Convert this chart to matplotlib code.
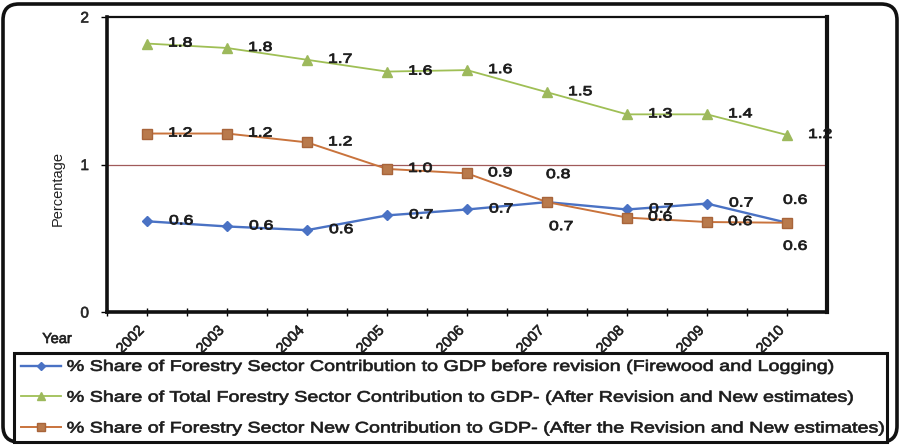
import matplotlib
matplotlib.use("Agg")
import matplotlib.pyplot as plt
from matplotlib.patches import FancyBboxPatch
from matplotlib.transforms import Affine2D, IdentityTransform
from matplotlib.patheffects import AbstractPathEffect

plt.rcParams['font.family'] = ['Liberation Sans', 'DejaVu Sans']

# ---------------- data ----------------
years = ['2002', '2003', '2004', '2005', '2006', '2007', '2008', '2009', '2010']

before_revision = [0.615, 0.58, 0.555, 0.655, 0.695, 0.745, 0.695, 0.735, 0.605]
before_labels = ['0.6', '0.6', '0.6', '0.7', '0.7', '0.8', '0.7', '0.7', '0.6']

total_forestry = [1.82, 1.79, 1.71, 1.63, 1.64, 1.49, 1.34, 1.34, 1.20]
total_labels = ['1.8', '1.8', '1.7', '1.6', '1.6', '1.5', '1.3', '1.4', '1.2']

new_contribution = [1.21, 1.21, 1.15, 0.97, 0.94, 0.745, 0.64, 0.61, 0.605]
new_labels = ['1.2', '1.2', '1.2', '1.0', '0.9', '0.7', '0.6', '0.6', '0.6']

series_names = [
    '% Share of Forestry Sector Contribution to GDP before revision (Firewood and Logging)',
    '% Share of Total Forestry Sector Contribution to GDP- (After Revision and New estimates)',
    '% Share of Forestry Sector New Contribution to GDP- (After the Revision and New estimates)',
]


class Stretch(AbstractPathEffect):
    """Horizontally widen glyphs (anchored at the text origin), slightly emboldened."""
    def __init__(self, sx, stroke=0.0):
        super().__init__()
        self.sx = sx
        self.stroke = stroke

    def draw_path(self, renderer, gc, tpath, affine, rgbFace=None):
        gc0 = renderer.new_gc()
        gc0.copy_properties(gc)
        if self.stroke > 0 and rgbFace is not None:
            gc0.set_linewidth(self.stroke)
            gc0.set_foreground(rgbFace)
        renderer.draw_path(gc0, tpath, Affine2D().scale(self.sx, 1.0) + affine, rgbFace)
        gc0.restore()


W, H = 900, 445
fig = plt.figure(figsize=(W / 100, H / 100), dpi=100)
fig.patch.set_facecolor('white')

ax = fig.add_axes([107 / W, 1 - 312 / H, 720 / W, 295 / H])
x = list(range(len(years)))

c_blue = '#4a72c4'
c_green = '#9fbf55'
c_orange = '#c9733c'

ax.plot(x, before_revision, color=c_blue, lw=1.7, marker='D', ms=5,
        mfc=c_blue, mec=c_blue, zorder=3)
ax.plot(x, total_forestry, color=c_green, lw=1.3, marker='^', ms=7.5,
        mfc='#9db95c', mec='#9db95c', zorder=3)
ax.plot(x, new_contribution, color=c_orange, lw=1.4, marker='s', ms=7,
        mfc='#b97a4c', mec='#a8643a', zorder=4)

ax.axhline(1, color='#a05a5a', lw=0.9, zorder=1)

ax.set_xlim(-0.5, len(years) - 0.5)
ax.set_ylim(0, 2)
ax.set_yticks([0, 1, 2])
ax.set_yticklabels(['0', '1', '2'], fontsize=11, color='#222222')
ax.tick_params(axis='y', direction='out', length=4, width=1, pad=9)

ax.set_xticks(x)
ax.set_xticks([i + 0.5 for i in x[:-1]] + [-0.5], minor=True)
ax.set_xticklabels(years, rotation=45, ha='right', va='top', fontsize=10.5,
                   color='#1a1a1a', rotation_mode='default')
ax.tick_params(axis='x', which='both', direction='inout', length=6, width=1, pad=5)
for t in ax.get_xticklabels() + ax.get_yticklabels():
    t.set_path_effects([Stretch(1.0, 0.5)])

for side, lw in [('left', 2.6), ('bottom', 2.6), ('right', 3.0), ('top', 1.6)]:
    ax.spines[side].set_linewidth(lw)
    ax.spines[side].set_color('#111111')

ax.set_ylabel('Percentage', fontsize=10.5, color='#222222')
ax.yaxis.set_label_coords(-0.058, 0.42)

# data labels
stretch = [Stretch(1.33, 0.6)]
label_kw = dict(textcoords='offset pixels', ha='left', va='center', fontsize=9.5,
                color='#1a1a1a', path_effects=stretch, zorder=5)
special_before = {5: (-1, 27), 8: (-4, 22)}
special_new = {5: (2, -25), 8: (-4, -24)}
for i in x:
    dx, dy = special_before.get(i, (22, 0))
    ax.annotate(before_labels[i], (i, before_revision[i]), xytext=(dx, dy), **label_kw)
    ax.annotate(total_labels[i], (i, total_forestry[i]), xytext=(21, 0), **label_kw)
    dx, dy = special_new.get(i, (21, 0))
    ax.annotate(new_labels[i], (i, new_contribution[i]), xytext=(dx, dy), **label_kw)

fig.text(57 / W, 1 - 339 / H, 'Year', ha='center', va='center', fontsize=10.5,
         color='#1a1a1a', path_effects=[Stretch(1.0, 0.5)])

# legend
leg = fig.legend(ax.get_lines()[:3], series_names, loc='upper left',
                 bbox_to_anchor=(14 / W, 4 / H, 873 / W, 88 / H),
                 bbox_transform=fig.transFigure, mode='expand', ncol=1,
                 fontsize=11, frameon=True, fancybox=False, framealpha=1,
                 borderaxespad=0, handlelength=2.65, handletextpad=0.35,
                 labelspacing=1.1, borderpad=0.45, markerscale=0.8)
leg.get_frame().set_edgecolor('#111111')
leg.get_frame().set_linewidth(2.2)
for t in leg.get_texts():
    t.set_path_effects([Stretch(1.29, 0.5)])
    t.set_color('#1a1a1a')

# outer rounded border
border = FancyBboxPatch((3, 3), W - 6, H - 7,
                        boxstyle='round,pad=0,rounding_size=16',
                        transform=IdentityTransform(), fill=False,
                        ec='#111111', lw=2.6)
fig.add_artist(border)

fig.savefig('out.png', dpi=100)
